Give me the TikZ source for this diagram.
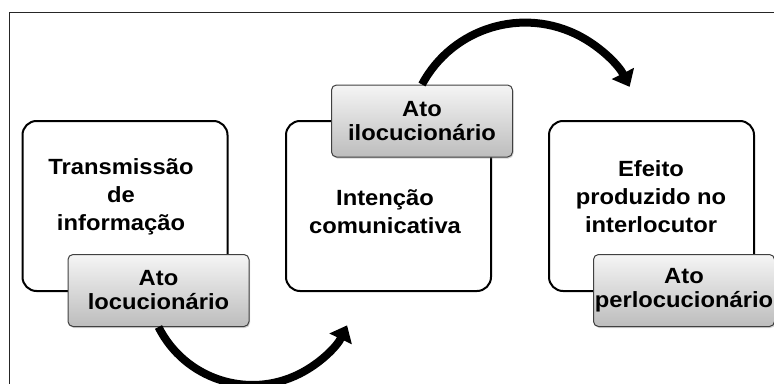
\documentclass[tikz,border=0pt]{standalone}
\usepackage{fontspec}
\setmainfont[FakeStretch=1.08]{Liberation Sans}
\usetikzlibrary{arrows.meta,shadows}
\newcommand{\BOXW}{205pt}
\newcommand{\BOXH}{170pt}
\newcommand{\TAGW}{181pt}
\newcommand{\TAGH}{72pt}
\newcommand{\LINEPT}{2pt}
\newcommand{\ARROWPT}{8pt}
\definecolor{mygraytop}{rgb}{0.96,0.96,0.96}
\definecolor{mygraybot}{rgb}{0.74,0.74,0.74}
\definecolor{myedge}{rgb}{0.25,0.25,0.25}
\tikzset{
	bigbox/.style={draw=black,line width=\LINEPT,rounded corners=14pt,fill=white,minimum width=\BOXW,minimum height=\BOXH,inner sep=0pt},
	boxtext/.style={align=center,font=\fontsize{22}{28}\selectfont\bfseries},
	tagbox/.style={draw=myedge,line width=1pt,rounded corners=5pt,top color=mygraytop,bottom color=mygraybot,minimum width=\TAGW,minimum height=\TAGH,inner sep=0pt,align=center,font=\fontsize{22}{24}\selectfont\bfseries,drop shadow={opacity=0.35,shadow xshift=1pt,shadow yshift=-1.5pt}},
	bigarrow/.style={-{Triangle[length=15pt,width=24pt]},line width=\ARROWPT,color=black}
}

\begin{document}
\begin{tikzpicture}[x=1pt,y=-1pt]

		\useasboundingbox (0,0) rectangle (774,383);

		%%
		\coordinate (f1) at (9,400) ;
		\coordinate (f2) at (9,12) ;
		\coordinate (f3) at (790,12) ;
		\draw[-,color=black!85,line width=1pt] (f1) -- (f2) -- (f3);

		%%
		\node[bigbox] (box1) at (125,206) {};
		\node[bigbox] (box2) at (388.5,206) {};
		\node[bigbox] (box3) at (651.5,206) {};

		\node[boxtext] (txt1) at (121,197) {Transmissão\\de\\informação};
		\node[boxtext] (txt2) at (385,211.5) {Intenção\\comunicativa};
		\node[boxtext] (txt3) at (651,196.5) {Efeito\\produzido no\\interlocutor};

		%%
		\node[tagbox] (lab1) at (158.5,290.5) {Ato\\locucionário};
		\node[tagbox] (lab2) at (422,121) {Ato\\ilocucionário};
		\node[tagbox] (lab3) at (684,290.5) {Ato\\perlocucionário};

		%%
		\draw[bigarrow] (lab1.south) arc[start angle=153.4,end angle=25.6,radius=105];
		\draw[bigarrow] (lab2.north) arc[start angle=208.1,end angle=333.2,radius=117];

	\end{tikzpicture}
\end{document}
